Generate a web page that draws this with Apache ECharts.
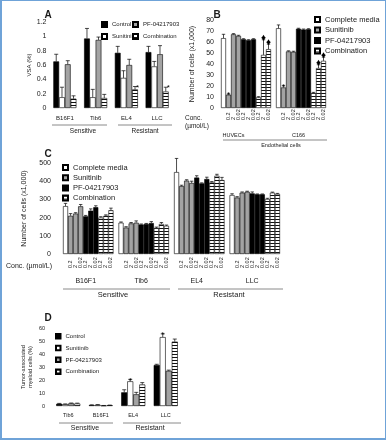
<!DOCTYPE html>
<html><head><meta charset="utf-8">
<script src="https://cdn.jsdelivr.net/npm/echarts@6/dist/echarts.min.js"></script>
<style>
html,body{margin:0;padding:0;background:#fff}
#c{width:386px;height:440px;position:absolute;left:0;top:0}
#frame{position:absolute;left:0;top:0;width:386px;height:440px;box-sizing:border-box;border:1px solid #6fa3d8;border-left-width:2px;border-bottom-width:2px;pointer-events:none}
</style></head><body>
<div id="c"></div><div id="frame"></div>
<script>
// ---------- DATA ----------
// Panel A : VSA (%)
const aCells = ['B16F1', 'Tib6', 'EL4', 'LLC'];
const aControl = [0.65, 0.97, 0.77, 0.78];
const aControlErr = [0.10, 0.14, 0.09, 0.08];
const aSunitinib = [0.15, 0.15, 0.42, 0.58];
const aSunitinibErr = [0.14, 0.11, 0.10, 0.07];
const aPF = [0.61, 0.95, 0.60, 0.75];
const aPFErr = [0.05, 0.04, 0.08, 0.12];
const aCombination = [0.13, 0.14, 0.26, 0.23];
const aCombinationErr = [0.04, 0.05, 0.04, 0.06];
const aCombinationMark = ['', '', '*', '*'];

// Panel B : endothelial cells (x1,000)
const concLabels = ['0.2', '2', '0.02'];
const bCells = ['HUVECs', 'C166'];
const bCellSlot = [2, 4];
const bComplete = [63.5, 72.5];
const bCompleteErr = [3.5, 3];
const bSunitinib = [[12.1, 67, 65.5], [18.7, 51.4, 51]];
const bSunitinibErr = [[0.6, 0.6, 0.6], [1.5, 0.6, 0.6]];
const bSunitinibMark = [['*', '', ''], ['*', '', '']];
const bPF = [[62.5, 61.6, 62.5], [72, 71.3, 71.6]];
const bPFErr = [[0.5, 0.5, 0.5], [0.5, 0.5, 0.5]];
const bCombination = [[9.7, 48.3, 53.5], [13.6, 36.3, 42.9]];
const bCombinationErr = [[0.6, 13.7, 4.5], [0.6, 3, 3.3]];
const bCombinationMark = [['', '♦', '♦'], ['', '♦', '♦']];

// Panel C : tumour cells (x1,000)
const cCells = ['B16F1', 'Tib6', 'EL4', 'LLC'];
const cCellSlot = [4, 4, 4, 4];
const cComplete = [263, 172, 450, 324];
const cCompleteErr = [15, 4, 75, 7];
const cSunitinib = [[210, 222, 262], [145, 168, 172], [373, 403, 390], [310, 337, 342]];
const cSunitinibErr = [[12, 5, 10], [5, 5, 10], [5, 5, 10], [5, 4, 3]];
const cPF = [[207, 238, 257], [162, 165, 170], [420, 388, 412], [333, 328, 328]];
const cPFErr = [[5, 10, 8], [3, 3, 8], [10, 3, 10], [8, 2, 2]];
const cCombination = [[200, 210, 240], [143, 165, 155], [393, 430, 406], [302, 337, 330]];
const cCombinationErr = [[5, 5, 12], [5, 8, 4], [5, 8, 15], [4, 3, 3]];

// Panel D : tumour-associated myeloid cells (%)
const dCells = ['Tib6', 'B16F1', 'EL4', 'LLC'];
const dControl = [1.7, 0.7, 10.5, 31.5];
const dControlErr = [0.3, 0.2, 2, 0.6];
const dSunitinib = [1.4, 0.9, 19, 53];
const dSunitinibErr = [0.2, 0.2, 1.5, 2.5];
const dSunitinibMark = ['', '', '*', '*'];
const dPF = [2.0, 0.3, 9, 27];
const dPFErr = [0.3, 0.1, 1.5, 0.6];
const dCombination = [1.9, 0.6, 16.5, 49.5];
const dCombinationErr = [0.3, 0.1, 1.5, 2];

const groupNames = ['Sensitive', 'Resistant'];
const endoName = 'Endothelial cells';
const namesAD = ['Control', 'Sunitinib', 'PF-04217903', 'Combination'];
const namesBC = ['Complete media', 'Sunitinib', 'PF-04217903', 'Combination'];

// ---------- STYLE ----------
const FF = '"Liberation Sans", Arial, Helvetica, sans-serif';
const TXT = '#1a1a1a';
const hatch = document.createElement('canvas');
hatch.width = 4; hatch.height = 3;
(function () {
  const g = hatch.getContext('2d');
  g.fillStyle = '#fff'; g.fillRect(0, 0, 4, 3);
  g.fillStyle = '#111'; g.fillRect(0, 0, 4, 1);
})();
const pat = { image: hatch, repeat: 'repeat' };
const B = '#000';
const sWhite = { color: '#fff', borderColor: B, borderWidth: 0.6 };
const sBlack = { color: '#000', borderColor: B, borderWidth: 0.6 };
const sGray = { color: '#a3a3a3', borderColor: B, borderWidth: 0.6 };
const sHatch = { color: pat, borderColor: B, borderWidth: 0.6 };
const styleAD = [sBlack, sWhite, sGray, sHatch];
const styleBC = [sWhite, sGray, sBlack, sHatch];

const markCode = m => (m === '*' ? 1 : m === '♦' ? 2 : 0);

// build fine categories for B and C (one bar per category)
function buildFine(cells, comp, compErr, sets, setErrs, setMarks, slots) {
  const labels = [], cellLabels = [], series = [[], [], [], []], errRows = [];
  cells.forEach((cell, g) => {
    const start = labels.length;
    labels.push('');
    series.forEach((s, si) => s.push(si === 0 ? comp[g] : null));
    errRows.push([start, 0, comp[g], compErr[g], 0]);
    for (let t = 0; t < 3; t++) {
      for (let k = 0; k < 3; k++) {
        const idx = labels.length;
        labels.push(concLabels[k]);
        const v = sets[t][g][k];
        series.forEach((s, si) => s.push(si === t + 1 ? v : null));
        const m = setMarks[t] ? setMarks[t][g][k] : '';
        errRows.push([idx, 0, v, setErrs[t][g][k], markCode(m)]);
      }
    }
    if (g < cells.length - 1) { labels.push(''); series.forEach(s => s.push(null)); }
    for (let i = start; i < labels.length; i++) cellLabels.push(i - start === slots[g] ? cell : '');
  });
  return { labels, cellLabels, series, errRows };
}
const fb = buildFine(bCells, bComplete, bCompleteErr, [bSunitinib, bPF, bCombination],
  [bSunitinibErr, bPFErr, bCombinationErr], [bSunitinibMark, null, bCombinationMark], bCellSlot);
const fc = buildFine(cCells, cComplete, cCompleteErr, [cSunitinib, cPF, cCombination],
  [cSunitinibErr, cPFErr, cCombinationErr], [null, null, null], cCellSlot);

function groupedErr(vals, errs, marks) {
  const rows = [];
  vals.forEach((arr, si) => arr.forEach((v, c) => {
    rows.push([c, si, v, errs[si][c], markCode(marks[si] ? marks[si][c] : '')]);
  }));
  return rows;
}
const errA = groupedErr([aControl, aSunitinib, aPF, aCombination],
  [aControlErr, aSunitinibErr, aPFErr, aCombinationErr], [null, null, null, aCombinationMark]);
const errD = groupedErr([dControl, dSunitinib, dPF, dCombination],
  [dControlErr, dSunitinibErr, dPFErr, dCombinationErr], [null, dSunitinibMark, null, null]);

function errRender(nPer, gapRatio, capHalf, starDx, starSize) {
  return function (params, api) {
    const cat = api.value(0), si = api.value(1), v = api.value(2), e = api.value(3), mk = api.value(4);
    const band = api.size([1, 0])[0];
    const inner = band * (1 - gapRatio);
    const bw = inner / nPer;
    const base = api.coord([cat, v]);
    const cx = base[0] - inner / 2 + bw * (si + 0.5);
    const y0 = base[1];
    const y1 = api.coord([cat, v + e])[1];
    const st = { stroke: '#000', lineWidth: 0.7 };
    const ch = [];
    if (e > 0) {
      ch.push({ type: 'line', shape: { x1: cx, y1: y0, x2: cx, y2: y1 }, style: st });
      ch.push({ type: 'line', shape: { x1: cx - capHalf, y1: y1, x2: cx + capHalf, y2: y1 }, style: st });
    }
    if (mk === 1) {
      ch.push({ type: 'text', style: { text: '*', x: cx + starDx, y: y1 + 1, fill: '#000',
        font: starSize + 'px ' + FF, align: 'center', verticalAlign: 'middle',
        textAlign: 'center', textVerticalAlign: 'middle' } });
    }
    if (mk === 2) {
      ch.push({ type: 'polygon', shape: { points: [[cx, y1 - 5], [cx + 1.8, y1 - 2], [cx, y1 + 1], [cx - 1.8, y1 - 2]] },
        style: { fill: '#000' } });
      ch.push({ type: 'line', shape: { x1: cx - 2.2, y1: y1 - 2, x2: cx + 2.2, y2: y1 - 2 }, style: st });
    }
    return { type: 'group', children: ch };
  };
}

// ---------- OPTION ----------
const strip = n => n.split('|').pop();
function yAx(gi, max, interval, fs, margin, name, nameGap, nfs, lh) {
  return {
    type: 'value', gridIndex: gi, min: 0, max, interval,
    axisLine: { show: false }, axisTick: { show: false }, splitLine: { show: false },
    axisLabel: { fontSize: fs, margin, color: TXT, fontFamily: FF },
    name, nameLocation: 'middle', nameGap, nameRotate: 90,
    nameTextStyle: { fontSize: nfs, color: TXT, fontFamily: FF, lineHeight: lh || nfs + 1 }
  };
}
function xCat(gi, data, fs, margin, extra) {
  return Object.assign({
    type: 'category', gridIndex: gi, data, position: 'bottom',
    axisLine: { show: false }, axisTick: { show: false }, splitLine: { show: false },
    axisLabel: { interval: 0, fontSize: fs, margin, color: TXT, fontFamily: FF }
  }, extra || {});
}
function legend(names, left, top, fs, gap, icon) {
  return {
    data: names, left, top, orient: 'vertical', padding: 0, itemGap: gap,
    itemWidth: icon, itemHeight: icon, icon: 'rect', selectedMode: false,
    formatter: strip, textStyle: { fontSize: fs, color: TXT, fontFamily: FF }
  };
}

const series = [];
[aControl, aSunitinib, aPF, aCombination].forEach((d, i) => series.push({
  type: 'bar', name: 'ad|' + namesAD[i], xAxisIndex: 0, yAxisIndex: 0, data: d,
  barGap: 0, barCategoryGap: '25%', itemStyle: styleAD[i], silent: true
}));
series.push({ type: 'custom', xAxisIndex: 0, yAxisIndex: 0, data: errA, encode: { x: 0, y: 2 },
  renderItem: errRender(4, 0.25, 2, 2.5, 8), z: 5, silent: true, clip: false });

fb.series.forEach((d, i) => series.push({
  type: 'bar', name: 'bc|' + namesBC[i], xAxisIndex: 1, yAxisIndex: 1, data: d,
  barGap: '-100%', barCategoryGap: 0, itemStyle: styleBC[i], silent: true
}));
series.push({ type: 'custom', xAxisIndex: 1, yAxisIndex: 1, data: fb.errRows, encode: { x: 0, y: 2 },
  renderItem: errRender(1, 0, 1.7, 0, 8), z: 5, silent: true, clip: false });

fc.series.forEach((d, i) => series.push({
  type: 'bar', name: 'bc|' + namesBC[i], xAxisIndex: 3, yAxisIndex: 2, data: d,
  barGap: '-100%', barCategoryGap: 0, itemStyle: styleBC[i], silent: true
}));
series.push({ type: 'custom', xAxisIndex: 3, yAxisIndex: 2, data: fc.errRows, encode: { x: 0, y: 2 },
  renderItem: errRender(1, 0, 1.7, 0, 8), z: 5, silent: true, clip: false });

[dControl, dSunitinib, dPF, dCombination].forEach((d, i) => series.push({
  type: 'bar', name: 'ad|' + namesAD[i], xAxisIndex: 5, yAxisIndex: 3, data: d,
  barGap: 0, barCategoryGap: '26%', itemStyle: styleAD[i], silent: true
}));
series.push({ type: 'custom', xAxisIndex: 5, yAxisIndex: 3, data: errD, encode: { x: 0, y: 2 },
  renderItem: errRender(4, 0.26, 2, 0, 8), z: 5, silent: true, clip: false });

function txt(text, x, y, fs, align, bold) {
  return { type: 'text', x, y, silent: true, style: {
    text, fill: TXT, font: (bold ? 'bold ' : '') + fs + 'px ' + FF,
    align: align || 'center', verticalAlign: 'middle',
    textAlign: align || 'center', textVerticalAlign: 'middle' } };
}
function ln(x1, y1, x2) {
  return { type: 'line', silent: true, shape: { x1, y1, x2, y2: y1 }, style: { stroke: '#8a8a8a', lineWidth: 1 } };
}

const option = {
  animation: false,
  backgroundColor: '#fff',
  textStyle: { fontFamily: FF },
  grid: [
    { left: 49.5, top: 22, width: 123, height: 86, outerBoundsMode: 'none' },
    { left: 221, top: 20, width: 105, height: 88, outerBoundsMode: 'none' },
    { left: 63, top: 163, width: 217, height: 91, outerBoundsMode: 'none' },
    { left: 52, top: 328, width: 130, height: 78, outerBoundsMode: 'none' }
  ],
  xAxis: [
    xCat(0, aCells, 6, 7),
    xCat(1, fb.labels, 5.5, 12, { axisLabel: { interval: 0, fontSize: 5.5, margin: 12, rotate: 90, align: 'left', verticalAlign: 'middle', color: TXT, fontFamily: FF } }),
    xCat(1, fb.cellLabels, 5.5, 0, { offset: 24 }),
    xCat(2, fc.labels, 5.5, 14, { axisLabel: { interval: 0, fontSize: 5.5, margin: 14, rotate: 90, align: 'left', verticalAlign: 'middle', color: TXT, fontFamily: FF } }),
    xCat(2, fc.cellLabels, 7, 0, { offset: 24 }),
    xCat(3, dCells, 5.5, 6)
  ],
  yAxis: [
    yAx(0, 1.2, 0.2, 7, 3, 'VSA (%)', 12, 6),
    yAx(1, 80, 10, 7, 7, 'Number of cells (x1,000)', 25, 7),
    yAx(2, 500, 100, 7, 12, 'Number of cells (x1,000)', 25, 7),
    yAx(3, 60, 10, 5.5, 7, 'Tumor-associated\nmyeloid cells (%)', 18, 5.5, 7)
  ],
  legend: [
    legend(['ad|Control', 'ad|Sunitinib'], 101, 21, 6, 5, 5),
    legend(['ad|PF-04217903', 'ad|Combination'], 132, 21, 6, 5, 5),
    legend(namesBC.map(n => 'bc|' + n), 314, 15.5, 7.5, 2.5, 5),
    legend(namesBC.map(n => 'bc|' + n), 62, 163.5, 7.5, 2.2, 5),
    legend(namesAD.map(n => 'ad|' + n), 55, 333, 6, 5.3, 4.5)
  ],
  series,
  graphic: [
    txt('A', 48, 15, 10, 'center', true),
    txt('B', 217, 15, 10, 'center', true),
    txt('C', 48, 154, 10, 'center', true),
    txt('D', 48, 318, 10, 'center', true),
    ln(52, 125, 107), ln(118, 125, 172),
    txt(groupNames[0], 83, 131, 6.5), txt(groupNames[1], 145, 131, 6.5),
    txt('Conc.', 185, 118, 6.5, 'left'), txt('(µmol/L)', 185, 126, 6.5, 'left'),
    ln(223, 140, 327), txt(endoName, 281, 145, 5.5),
    txt('Conc. (µmol/L)', 6, 266, 7, 'left'),
    ln(63, 289, 170), ln(178, 289, 283),
    txt(groupNames[0], 113, 295, 7.5), txt(groupNames[1], 229, 295, 7.5),
    ln(59, 423, 113), ln(123, 423, 181),
    txt(groupNames[0], 85, 428, 7), txt(groupNames[1], 150, 428, 7)
  ]
};
const chart = echarts.init(document.getElementById('c'), null, { renderer: 'canvas' });
chart.setOption(option);
</script>
</body></html>
